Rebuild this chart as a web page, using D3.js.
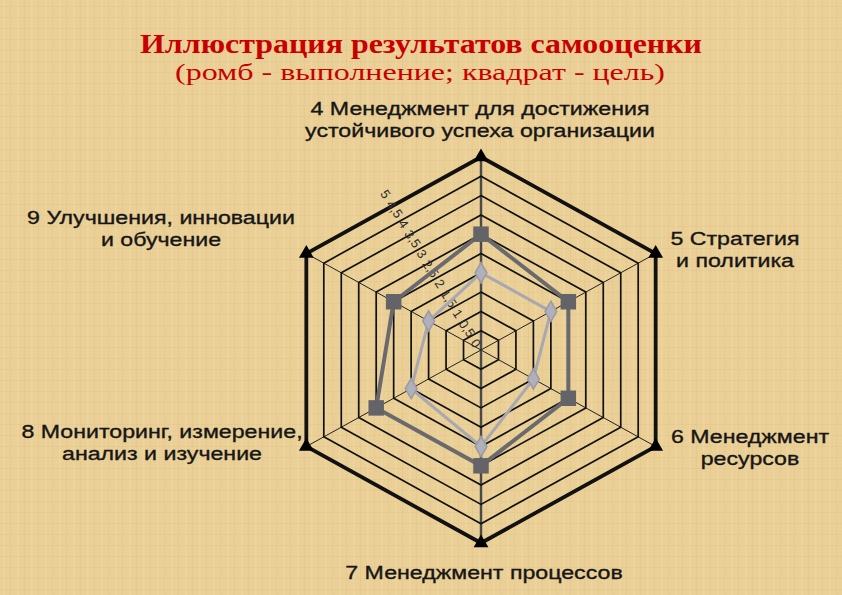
<!DOCTYPE html>
<html>
<head>
<meta charset="utf-8">
<script src="https://cdn.jsdelivr.net/npm/d3@7"></script>
<style>
  body { margin: 0; padding: 0; }
  svg { display: block; }
</style>
</head>
<body>
<svg id="radar"></svg>
<script>
// axis names, clockwise from the top
const categories = [
  ['4 Менеджмент для достижения', 'устойчивого успеха организации'],
  ['5 Стратегия', 'и политика'],
  ['6 Менеджмент', 'ресурсов'],
  ['7 Менеджмент процессов'],
  ['8 Мониторинг, измерение,', 'анализ и изучение'],
  ['9 Улучшения, инновации', 'и обучение']
];
// квадрат - цель
const targetValues = [3, 2.5, 2.5, 3, 3, 2.5];
// ромб - выполнение
const performanceValues = [2, 2, 1.5, 2.5, 2, 1.5];
// ring levels and their labels
const levels = [0.5, 1, 1.5, 2, 2.5, 3, 3.5, 4, 4.5, 5];
const tickValues = [0, 0.5, 1, 1.5, 2, 2.5, 3, 3.5, 4, 4.5, 5];
const tickLabels = ['0', '0,5', '1', '1,5', '2', '2,5', '3', '3,5', '4', '4,5', '5'];

const width = 842, height = 595;
const cx = 481, cy = 350;
const sx = 1.045; // picture is a little wider than a true hexagon

const svg = d3.select('#radar').attr('width', width).attr('height', height);

// parchment background
const defs = svg.append('defs');
const pat = defs.append('pattern').attr('id', 'paper')
  .attr('width', 14).attr('height', 11).attr('patternUnits', 'userSpaceOnUse');
pat.append('rect').attr('width', 14).attr('height', 11).attr('fill', '#eacf96');
pat.append('rect').attr('x', 3).attr('width', 1.5).attr('height', 11).attr('fill', '#f2dca9').attr('opacity', 0.45);
pat.append('rect').attr('x', 10).attr('width', 1).attr('height', 11).attr('fill', '#dcbd80').attr('opacity', 0.3);
pat.append('rect').attr('y', 6).attr('width', 14).attr('height', 1).attr('fill', '#dfc386').attr('opacity', 0.3);
svg.append('rect').attr('width', width).attr('height', height).attr('fill', 'url(#paper)');

const rScale = d3.scaleLinear().domain([0, 5]).range([0, 193]);
const angle = d3.scaleLinear().domain([0, categories.length]).range([0, 2 * Math.PI]);

const pt = (i, v) => [
  cx + sx * rScale(v) * Math.sin(angle(i)),
  cy - rScale(v) * Math.cos(angle(i))
];

const line = d3.line().curve(d3.curveLinearClosed);
const idx = d3.range(categories.length);

// spokes
const spokes = svg.append('g');
idx.forEach(i => {
  const [x, y] = pt(i, 5);
  spokes.append('line')
    .attr('x1', cx).attr('y1', cy).attr('x2', x).attr('y2', y)
    .attr('stroke', i % 3 === 0 ? '#4a4a4a' : '#222')
    .attr('stroke-width', i % 3 === 0 ? 2.5 : 1);
});

// rings
svg.append('g').selectAll('path')
  .data(levels)
  .join('path')
  .attr('d', v => line(idx.map(i => pt(i, v))))
  .attr('fill', 'none')
  .attr('stroke', '#111')
  .attr('stroke-width', v => v === 5 ? 3.8 : 1.7);

// scale labels along the upper-left edge middles
const scaleG = svg.append('g');
tickValues.forEach((v, k) => {
  const a = pt(5, v), b = pt(0, v);
  const mx = (a[0] + b[0]) / 2 - 6 - v * 0.6;
  const my = (a[1] + b[1]) / 2 - 6 - v * 0.9;
  scaleG.append('text')
    .attr('transform', 'translate(' + mx + ',' + my + ') rotate(55)')
    .attr('text-anchor', 'middle')
    .attr('dominant-baseline', 'middle')
    .attr('font-family', 'Liberation Sans, Arial, sans-serif')
    .attr('font-size', 13)
    .attr('fill', '#2e2e2e')
    .text(tickLabels[k]);
});

// target series
svg.append('path')
  .datum(targetValues)
  .attr('d', d => line(d.map((v, i) => pt(i, v))))
  .attr('fill', 'none')
  .attr('stroke', '#6a6a6e')
  .attr('stroke-width', 4);

// performance series
svg.append('path')
  .datum(performanceValues)
  .attr('d', d => line(d.map((v, i) => pt(i, v))))
  .attr('fill', 'none')
  .attr('stroke', '#a8a8b2')
  .attr('stroke-width', 3);

svg.append('g').selectAll('path')
  .data(targetValues)
  .join('path')
  .attr('d', d3.symbol().type(d3.symbolSquare).size(240))
  .attr('transform', (v, i) => 'translate(' + pt(i, v) + ')')
  .attr('fill', '#646468');

svg.append('g').selectAll('path')
  .data(performanceValues)
  .join('path')
  .attr('d', d3.symbol().type(d3.symbolDiamond).size(120))
  .attr('transform', (v, i) => 'translate(' + pt(i, v) + ')')
  .attr('fill', '#b0b0ba')
  .attr('stroke', '#9a9aa4')
  .attr('stroke-width', 1.5);

// triangles at the outer corners
svg.append('g').selectAll('path')
  .data(idx)
  .join('path')
  .attr('d', d3.symbol().type(d3.symbolTriangle).size(95))
  .attr('transform', i => 'translate(' + pt(i, 5) + ')')
  .attr('fill', '#000');

// category labels (the original font is drawn wide)
const labelPos = [[480, 115], [735, 245], [750, 443], [484, 579], [162, 438], [161, 224]];
const labG = svg.append('g')
  .attr('font-family', 'Liberation Sans, Arial, sans-serif')
  .attr('font-size', 19)
  .attr('fill', '#161616')
  .attr('stroke', '#161616')
  .attr('stroke-width', 0.35)
  .attr('text-anchor', 'middle');
categories.forEach((lines, i) => {
  const t = labG.append('text')
    .attr('transform', 'translate(' + labelPos[i] + ') scale(1.22,1)');
  lines.forEach((s, j) => {
    t.append('tspan').attr('x', 0).attr('y', j * 22.5).text(s);
  });
});

// title
svg.append('text')
  .attr('x', 421).attr('y', 53)
  .attr('text-anchor', 'middle')
  .attr('font-family', 'Liberation Serif, Times New Roman, serif')
  .attr('font-weight', 'bold')
  .attr('font-size', 27)
  .attr('textLength', 562)
  .attr('lengthAdjust', 'spacingAndGlyphs')
  .attr('fill', '#c80000')
  .text('Иллюстрация результатов самооценки');

svg.append('text')
  .attr('x', 420).attr('y', 80)
  .attr('text-anchor', 'middle')
  .attr('font-family', 'Liberation Serif, Times New Roman, serif')
  .attr('font-size', 23)
  .attr('textLength', 490)
  .attr('lengthAdjust', 'spacingAndGlyphs')
  .attr('fill', '#c80000')
  .text('(ромб - выполнение; квадрат - цель)');
</script>
</body>
</html>
